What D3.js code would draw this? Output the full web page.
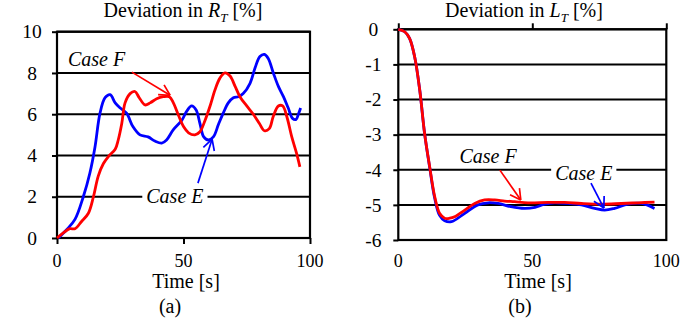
<!DOCTYPE html>
<html>
<head>
<meta charset="utf-8">
<script src="https://cdn.jsdelivr.net/npm/d3@7"></script>
<style>
  body { margin: 0; background: #fff; }
  svg { display: block; }
</style>
</head>
<body>
<svg id="chart" width="696" height="329"></svg>
<script>
// ---- data ----
var xTicks = [0, 50, 100];
var rTicks = [0, 2, 4, 6, 8, 10];
var lTicks = [0, -1, -2, -3, -4, -5, -6];

// (a) deviation in R_T
var tE_R = [0.5, 3.8, 7.1, 10.4, 13, 15, 17, 19, 21, 23, 25, 27.5, 30, 32.8, 36, 38.7, 41.4, 43.3, 46, 49.3,
            51.3, 53.2, 55, 56.5, 58, 59.8, 61.8, 63.8, 65.7, 67.7, 69.7, 71.7, 73.6, 76.3, 78.3, 80.2, 82, 83.5,
            85.5, 87.5, 89.5, 91.4, 93.1, 94.5, 95.4, 96.3];
var caseE_R = [0, 0.4, 0.9, 2.0, 3.15, 4.4, 6.05, 6.8, 6.95, 6.55, 6.3, 6.05, 5.4, 5.0, 4.9, 4.7, 4.6, 4.75, 5.25, 5.7,
               6.15, 6.4, 6.2, 5.55, 4.9, 4.75, 4.9, 5.5, 6.05, 6.55, 6.8, 6.85, 7.0, 7.5, 8.25, 8.8, 8.9, 8.7,
               8.0, 7.35, 6.85, 6.3, 5.8, 5.75, 6.0, 6.3];
var tF_R = [0, 2.5, 5.1, 7.1, 9.7, 12.4, 14.4, 16.3, 18.3, 20.3, 23, 24.2, 25.6, 26.9, 28.9, 30.8, 32.5, 34.8, 36.8,
            39.4, 42, 44.4, 46, 48, 50, 52, 54.5, 56.5, 58.5, 60.5, 62.5, 64.4, 66.4, 68.4, 70.4, 72.3, 75, 77.6,
            80, 82, 83.9, 85.5, 87.5, 89.2, 90.8, 92.8, 94.7, 96];
var caseF_R = [0, 0.25, 0.45, 0.45, 0.8, 1.2, 2.0, 3.0, 3.6, 3.95, 4.3, 4.75, 5.55, 6.55, 7.0, 7.1, 6.8, 6.45, 6.55,
               6.75, 6.85, 6.85, 6.55, 5.95, 5.4, 5.1, 5.0, 5.15, 5.7, 6.4, 7.2, 7.75, 8.0, 7.85, 7.35, 6.85, 6.4, 6.0,
               5.55, 5.2, 5.3, 5.9, 6.4, 6.4, 5.9, 4.9, 4.1, 3.45];

// (b) deviation in L_T
var tE_L = [0, 2.4, 4.2, 6.1, 8, 9.8, 11.7, 13.6, 15.4, 17.3, 19.8, 24.8, 29.7, 33.5, 37.2, 42, 47, 51, 54.6,
            58.3, 63.3, 68.3, 73.3, 77, 80.7, 85.7, 90.7, 95.6];
var caseE_L = [0, -0.07, -0.26, -0.78, -1.73, -2.96, -3.93, -4.82, -5.3, -5.45, -5.48, -5.24, -5.0, -4.94, -4.96,
               -5.05, -5.1, -5.07, -4.98, -4.94, -4.96, -5.0, -5.1, -5.15, -5.1, -4.98, -4.96, -5.1];
var tF_L = [0, 2.4, 4.2, 6.1, 8, 9.8, 11.7, 13.6, 15.4, 17.3, 19.2, 21, 24.8, 28.5, 32.2, 36, 39.7, 43.4, 48.4,
            55.8, 62, 68.3, 75.7, 83.2, 89.4, 95.6];
var caseF_L = [0, -0.07, -0.26, -0.78, -1.73, -2.96, -3.91, -4.77, -5.24, -5.38, -5.38, -5.34, -5.15, -4.96, -4.86,
               -4.86, -4.89, -4.91, -4.94, -4.93, -4.93, -4.96, -4.98, -4.96, -4.94, -4.92];

// annotations in data units: [label t, label v, arrow from t, v, arrow to t, v]
var noteF_R = [4.3, 8.33, 29.6, 8.04, 44.7, 6.92];
var noteE_R = [46.6, 1.69, 55.7, 2.66, 61.3, 4.79];
var noteF_L = [33.5, -3.81, 37.9, -4.01, 45.7, -4.86];
var noteE_L = [69.2, -4.29, 71.9, -4.38, 76.7, -5.09];

var RED = "#ff0000";
var BLUE = "#0000ff";
var SERIF = "'Liberation Serif', 'Times New Roman', serif";

var svg = d3.select("#chart");

// every text gets the serif face inline so nothing falls back to sans
function txt(sel, size) {
  return sel.style("font-family", SERIF).style("font-size", (size || 20) + "px").attr("fill", "#000");
}

function drawPanel(opt) {
  var x = d3.scaleLinear().domain([0, 100]).range([opt.left, opt.right]);
  var y = d3.scaleLinear().domain(opt.domain).range([opt.bottom, opt.top]);
  var g = svg.append("g");

  // gridlines
  g.selectAll(".grid").data(opt.yTicks).enter().append("line")
    .attr("x1", opt.left).attr("x2", opt.right)
    .attr("y1", function(d) { return y(d); }).attr("y2", function(d) { return y(d); })
    .attr("stroke", "#000").attr("stroke-width", 2);

  // frame
  g.append("rect")
    .attr("x", opt.left).attr("y", opt.top)
    .attr("width", opt.right - opt.left).attr("height", opt.bottom - opt.top)
    .attr("fill", "none").attr("stroke", "#000").attr("stroke-width", 2.2);

  // y axis ticks + labels (plain hyphen minus like the original)
  var yAxis = d3.axisLeft(y).tickValues(opt.yTicks).tickSize(5)
    .tickFormat(function(d) { return String(d); });
  var ya = g.append("g").attr("transform", "translate(" + opt.left + ",0)").call(yAxis);
  ya.select(".domain").remove();
  ya.selectAll("line").attr("stroke", "#000").attr("stroke-width", 2);
  txt(ya.selectAll("text"), 19.5).attr("x", -25).attr("text-anchor", "middle");

  // x axis: ticks on the zero line, labels below the plot
  var xAxis = d3.axisBottom(x).tickValues(xTicks).tickSize(opt.tickDir * 6).tickFormat("");
  var xa = g.append("g").attr("transform", "translate(0," + y(0) + ")").call(xAxis);
  xa.select(".domain").remove();
  xa.selectAll("line").attr("stroke", "#000").attr("stroke-width", 2);

  txt(g.selectAll(".xlab").data(xTicks).enter().append("text"), 18)
    .attr("x", function(d) { return x(d); }).attr("y", 267)
    .attr("text-anchor", "middle").text(function(d) { return d; });

  txt(g.append("text"), 20).attr("x", opt.timeX).attr("y", 288).attr("text-anchor", "middle").text("Time [s]");
  txt(g.append("text"), 20).attr("x", opt.capX).attr("y", 313).attr("text-anchor", "middle").text(opt.caption);

  // title with italic symbol and subscript
  var title = txt(g.append("text"), 20).attr("x", opt.titleX).attr("y", 17).attr("text-anchor", "middle");
  title.append("tspan").text("Deviation in ");
  title.append("tspan").style("font-style", "italic").text(opt.sym);
  title.append("tspan").style("font-style", "italic").style("font-size", "13px").attr("dy", 5).text("T");
  title.append("tspan").attr("dy", -5).text(" [%]");

  // series
  var line = d3.line()
    .x(function(d) { return x(d[0]); })
    .y(function(d) { return y(d[1]); })
    .curve(d3.curveCatmullRom.alpha(0.5));

  opt.series.forEach(function(s) {
    g.append("path")
      .datum(d3.zip(s.t, s.v))
      .attr("d", line)
      .attr("fill", "none")
      .attr("stroke", s.color)
      .attr("stroke-width", 2.8)
      .attr("stroke-linejoin", "round");
  });

  // annotations
  opt.notes.forEach(function(n) {
    var lab = txt(g.append("text"), 20).style("font-style", "italic")
      .attr("x", x(n.d[0])).attr("y", y(n.d[1]))
      .attr("text-anchor", n.anchor).text(n.text);
    if (n.box) {
      var b = lab.node().getBBox();
      g.insert("rect", function() { return lab.node(); })
        .attr("x", b.x - 4).attr("y", b.y + 4)
        .attr("width", b.width + 8).attr("height", b.height - 6)
        .attr("fill", "#fff");
    }
    var x0 = x(n.d[2]), y0 = y(n.d[3]), x1 = x(n.d[4]), y1 = y(n.d[5]);
    var ang = Math.atan2(y1 - y0, x1 - x0);
    var len = 12, spread = 0.5;
    g.append("line").attr("x1", x0).attr("y1", y0).attr("x2", x1).attr("y2", y1)
      .attr("stroke", n.color).attr("stroke-width", 1.7);
    [-spread, spread].forEach(function(s) {
      g.append("line").attr("x1", x1).attr("y1", y1)
        .attr("x2", x1 - len * Math.cos(ang + s)).attr("y2", y1 - len * Math.sin(ang + s))
        .attr("stroke", n.color).attr("stroke-width", 1.7);
    });
  });
}

drawPanel({
  left: 57, right: 310, top: 31.7, bottom: 238,
  domain: [0, 10], yTicks: rTicks, tickDir: 1,
  sym: "R", titleX: 183, timeX: 186, capX: 170, caption: "(a)",
  series: [
    { t: tE_R, v: caseE_R, color: BLUE },
    { t: tF_R, v: caseF_R, color: RED }
  ],
  notes: [
    { d: noteF_R, text: "Case F", anchor: "start", color: RED, box: false },
    { d: noteE_R, text: "Case E", anchor: "middle", color: BLUE, box: true }
  ]
});

drawPanel({
  left: 398.3, right: 666.3, top: 29.3, bottom: 240,
  domain: [-6, 0], yTicks: lTicks, tickDir: -1,
  sym: "L", titleX: 524, timeX: 538, capX: 520, caption: "(b)",
  series: [
    { t: tE_L, v: caseE_L, color: BLUE },
    { t: tF_L, v: caseF_L, color: RED }
  ],
  notes: [
    { d: noteF_L, text: "Case F", anchor: "middle", color: RED, box: false },
    { d: noteE_L, text: "Case E", anchor: "middle", color: BLUE, box: true }
  ]
});
</script>
</body>
</html>
